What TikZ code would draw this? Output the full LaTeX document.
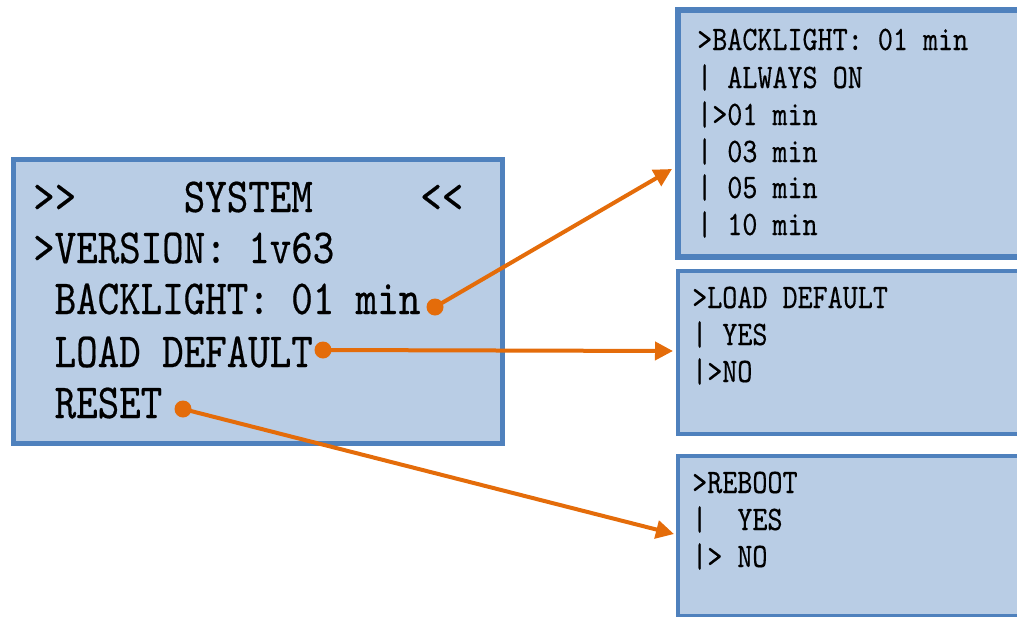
\documentclass[tikz,border=0pt]{standalone}
\usepackage{fontspec}
\newfontfamily\lcdfont{lmmono10-regular.otf}[FakeStretch=0.836,FakeBold=0.4]
\usetikzlibrary{arrows.meta}
\definecolor{lcdfill}{RGB}{185,205,229}
\definecolor{lcdedge}{RGB}{79,129,189}
\definecolor{pointer}{RGB}{228,108,10}
\tikzset{
  screen/.style={draw=lcdedge, fill=lcdfill, anchor=north west, inner sep=0pt},
  bigline/.style={anchor=base west, inner sep=0pt,
    font=\lcdfont\fontsize{49}{54}\selectfont},
  smallline/.style={anchor=base west, inner sep=0pt,
    font=\lcdfont\fontsize{34.3}{37}\selectfont},
  hotspot/.style={circle, fill=pointer, inner sep=0pt, minimum size=17pt},
  jump/.style={draw=pointer, line width=4pt,
    -{Triangle[length=18pt,width=18pt,fill=pointer]}}
}

\begin{document}
\begin{tikzpicture}[x=1pt,y=-1pt]
  \useasboundingbox (0,0) rectangle (1017,616);
  \clip (0,0) rectangle (1017,616);

  % main menu screen
  \node[screen, line width=5pt, minimum width=489pt, minimum height=284pt] (sys) at (10.5,156.5) {};
  \node[bigline] (title) at (33,212) {>\kern0pt>\ \ \ \ \ SYSTEM\ \ \ \ \ <\kern0pt<};
  \node[bigline] (version) at (33,263) {>VERSION: 1v63};
  \node[bigline] (backlight) at (33,314) {\ BACKLIGHT: 01 min};
  \node[bigline] (loaddef) at (33,367) {\ LOAD DEFAULT};
  \node[bigline] (reset) at (33,418) {\ RESET};

  % sub screens
  \node[screen, line width=6pt, minimum width=380pt, minimum height=247pt] (blscr) at (675,6.5) {};
  \node[smallline] (bl1) at (697,50) {>BACKLIGHT: 01 min};
  \node[smallline] (bl2) at (697,88) {| ALWAYS ON};
  \node[smallline] (bl3) at (697,125) {|>01 min};
  \node[smallline] (bl4) at (697,162) {| 03 min};
  \node[smallline] (bl5) at (697,198) {| 05 min};
  \node[smallline] (bl6) at (697,235) {| 10 min};

  \node[screen, line width=4pt, minimum width=380pt, minimum height=163pt] (ldscr) at (676,269) {};
  \node[smallline] (ld1) at (692,308) {>LOAD DEFAULT};
  \node[smallline] (ld2) at (692,345) {| YES};
  \node[smallline] (ld3) at (692,382) {|>NO};

  \node[screen, line width=4pt, minimum width=380pt, minimum height=160pt] (rbscr) at (676,454) {};
  \node[smallline] (rb1) at (692,493) {>REBOOT};
  \node[smallline] (rb2) at (692,530) {|\ \ YES};
  \node[smallline] (rb3) at (692,567) {|> NO};

  % links
  \node[hotspot] (dotbl) at (435,307) {};
  \node[hotspot] (dotld) at (323,350) {};
  \node[hotspot] (dotrs) at (183,409) {};
  \coordinate (tipbl) at (672,169);
  \coordinate (tipld) at (673,351);
  \coordinate (tiprs) at (674,534);

  \draw[jump] (dotbl.center) -- (tipbl);
  \draw[jump] (dotld.center) -- (tipld);
  \draw[jump] (dotrs.center) -- (tiprs);
\end{tikzpicture}
\end{document}
